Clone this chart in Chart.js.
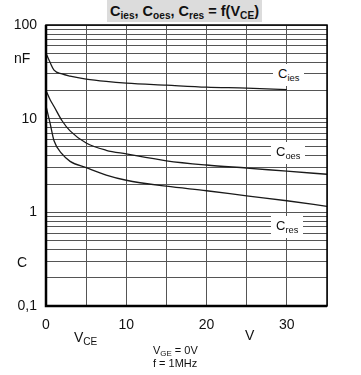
<!DOCTYPE html>
<html>
<head>
<meta charset="utf-8">
<script src="https://cdn.jsdelivr.net/npm/chart.js@4.4.1/dist/chart.umd.min.js"></script>
<style>
  body { margin: 0; background: #fff; font-family: "Liberation Sans", Arial, sans-serif; }
  #wrap { position: relative; width: 361px; height: 375px; }
  .t { position: absolute; color: #111; white-space: nowrap; line-height: 1; }
  .t sub { font-size: 72%; vertical-align: -0.3em; }
  #title { left: 107px; top: 0; width: 155px; height: 22px; background: #dcdcdc;
           font-weight: bold; font-size: 14.5px; text-align: center; line-height: 22px; }
  #title sub { font-size: 70%; vertical-align: -0.25em; }
  .lab { background: #fff; font-size: 13px; padding: 3px 5px; }
  .ax { font-size: 14px; }
  .note { font-size: 11px; }
</style>
</head>
<body>
<div id="wrap">
  <canvas id="myChart" width="361" height="375"></canvas>
  <div class="t" id="title">C<sub>ies</sub>, C<sub>oes</sub>, C<sub>res</sub> = f(V<sub>CE</sub>)</div>
  <div class="t lab" style="left:273px; top:64px;">C<sub>ies</sub></div>
  <div class="t lab" style="left:271px; top:142px;">C<sub>oes</sub></div>
  <div class="t lab" style="left:271px; top:216px;">C<sub>res</sub></div>
  <div class="t ax" style="left:14px; top:51px;">nF</div>
  <div class="t ax" style="left:17px; top:255px;">C</div>
  <div class="t ax" style="left:74px; top:330px;">V<sub>CE</sub></div>
  <div class="t ax" style="left:245px; top:328px;">V</div>
  <div class="t note" style="left:153px; top:345px;">V<sub>GE</sub> = 0V</div>
  <div class="t note" style="left:153px; top:358px;">f = 1MHz</div>
</div>
<script>
const vce = [0, 0.5, 1, 2, 3, 5, 7.5, 10, 15, 20, 25, 30, 35];
const cies = [50, 40, 33, 30, 28.5, 26.5, 25, 24, 22.8, 21.7, 21.2, 20.4, null];
const coes = [20, 16, 13.5, 9.5, 7.4, 5.5, 4.6, 4.2, 3.55, 3.2, 2.97, 2.75, 2.55];
const cres = [13.7, 9, 5.8, 4.2, 3.5, 3.0, 2.5, 2.2, 1.9, 1.7, 1.5, 1.33, 1.16];

const xTicks = [0, 10, 20, 30];
const yTicks = [100, 10, 1, 0.1];
const yTickText = ["100", "10", "1", "0,1"];

const toPoints = (arr) =>
  vce.map((v, i) => ({ x: v, y: arr[i] })).filter((p) => p.y !== null);

const line = (arr) => ({
  data: toPoints(arr),
  borderColor: "#1a1a1a",
  borderWidth: 1.3,
  pointRadius: 0,
  cubicInterpolationMode: "monotone",
  fill: false,
});

// grid lines at 1..9 x each decade
const logGrid = (scale) => {
  const vals = [];
  [0.1, 1, 10].forEach((d) => {
    for (let m = 1; m < 10; m++) vals.push(+(d * m).toPrecision(3));
  });
  vals.push(100);
  scale.ticks = vals.map((v) => ({ value: v }));
};

const frame = {
  id: "frame",
  afterDraw(chart) {
    const { ctx, chartArea: a } = chart;
    ctx.save();
    ctx.strokeStyle = "#000";
    ctx.lineWidth = 1.5;
    ctx.strokeRect(a.left, a.top, a.right - a.left, a.bottom - a.top);
    ctx.lineWidth = 2.5;
    ctx.beginPath();
    ctx.moveTo(a.left, a.top);
    ctx.lineTo(a.left, a.bottom);
    ctx.lineTo(a.right, a.bottom);
    ctx.stroke();
    ctx.restore();
  },
};

const ctx = document.getElementById("myChart");

new Chart(ctx, {
  type: "line",
  data: { datasets: [line(cies), line(coes), line(cres)] },
  options: {
    responsive: false,
    animation: false,
    layout: { padding: { top: 25, right: 34, left: 0, bottom: 0 } },
    plugins: { legend: { display: false }, tooltip: { enabled: false } },
    scales: {
      x: {
        type: "linear",
        min: 0,
        max: 35,
        afterFit: (s) => { s.height = 69; },
        grid: { color: "#555", lineWidth: 1, drawTicks: false },
        border: { display: false },
        ticks: {
          stepSize: 5,
          autoSkip: false,
          maxRotation: 0,
          padding: 11,
          color: "#111",
          font: { family: "Liberation Sans", size: 14 },
          callback: (v) => (xTicks.includes(v) ? String(v) : ""),
        },
      },
      y: {
        type: "logarithmic",
        min: 0.1,
        max: 100,
        afterBuildTicks: logGrid,
        afterFit: (s) => { s.width = 46; },
        grid: { color: "#555", lineWidth: 1, drawTicks: false },
        border: { display: false },
        ticks: {
          autoSkip: false,
          padding: 9,
          color: "#111",
          font: { family: "Liberation Sans", size: 14 },
          callback: (v) => {
            const i = yTicks.findIndex((t) => Math.abs(t - v) < 1e-9);
            return i >= 0 ? yTickText[i] : "";
          },
        },
      },
    },
  },
  plugins: [frame],
});
</script>
</body>
</html>
